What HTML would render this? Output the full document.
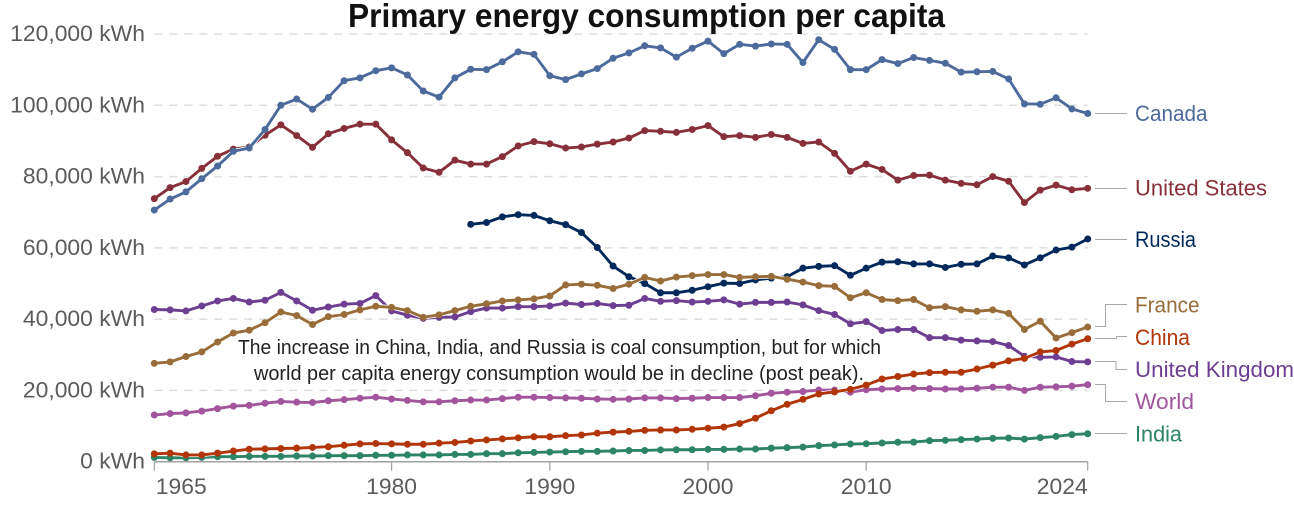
<!DOCTYPE html>
<html lang="en">
<head>
<meta charset="utf-8">
<title>Primary energy consumption per capita</title>
<style>
html,body{margin:0;padding:0;background:#fff;width:1294px;height:512px;overflow:hidden}
svg{display:block;font-family:"Liberation Sans",sans-serif}
.lbl{font-size:22px}
</style>
</head>
<body>
<svg id="chart" width="1294" height="512" viewBox="0 0 1294 512">
  <g id="grid"></g>
  <g id="axis"></g>
  <g id="ylabels"></g>
  <g id="series"></g>
  <text id="title" x="348" y="27" font-size="33" font-weight="700" fill="#111" textLength="597" lengthAdjust="spacingAndGlyphs">Primary energy consumption per capita</text>
  <text x="238" y="354" font-size="20" fill="#222" textLength="643" lengthAdjust="spacingAndGlyphs">The increase in China, India, and Russia is coal consumption, but for which</text>
  <text x="254" y="380" font-size="20" fill="#222" textLength="610" lengthAdjust="spacingAndGlyphs">world per capita energy consumption would be in decline (post peak).</text>
  <g fill="none" stroke="#a9a9a9" stroke-width="1">
    <path d="M1095 113.5H1127"/>
    <path d="M1095 188.5H1127"/>
    <path d="M1095 239.5H1127"/>
    <path d="M1095 326.5H1105.5V304.5H1127"/>
    <path d="M1095 338.5H1116.5V336.5H1127"/>
    <path d="M1095 361.5H1116V369.5H1127"/>
    <path d="M1095 384.5H1105.5V401.5H1127"/>
    <path d="M1095 433.5H1127"/>
  </g>
  <g class="lbl">
    <text x="1135" y="121" fill="#4C6A9C" textLength="72.5" lengthAdjust="spacingAndGlyphs">Canada</text>
    <text x="1135" y="195.5" fill="#883039" textLength="132" lengthAdjust="spacingAndGlyphs">United States</text>
    <text x="1135" y="247" fill="#00295B" textLength="61" lengthAdjust="spacingAndGlyphs">Russia</text>
    <text x="1135" y="312.5" fill="#996D39" textLength="64.5" lengthAdjust="spacingAndGlyphs">France</text>
    <text x="1135" y="345" fill="#B13507" textLength="55" lengthAdjust="spacingAndGlyphs">China</text>
    <text x="1135" y="377" fill="#6D3E91" textLength="159" lengthAdjust="spacingAndGlyphs">United Kingdom</text>
    <text x="1135" y="409" fill="#A2559C" textLength="59" lengthAdjust="spacingAndGlyphs">World</text>
    <text x="1135" y="441.5" fill="#2C8465" textLength="47" lengthAdjust="spacingAndGlyphs">India</text>
  </g>
</svg>
<script>
const firstYear = 1965;
const lastYear = 2024;
const yTicks = [0, 20000, 40000, 60000, 80000, 100000, 120000];
const xTicks = [1965, 1980, 1990, 2000, 2010, 2024];

const canada = [70600,73700,75700,79400,82950,87100,88000,93200,100000,101750,98900,102200,106900,107700,109700,110500,108500,104000,102300,107700,110100,110000,112200,115000,114300,108300,107200,108800,110300,113200,114700,116700,116100,113500,116000,118000,114500,117100,116600,117200,117100,112000,118400,115700,110000,110000,112800,111700,113400,112600,111800,109300,109400,109500,107400,100400,100300,102100,99000,97700];
const unitedStates = [73800,76900,78600,82300,85700,87700,88300,91600,94500,91500,88200,92000,93500,94700,94700,90300,86700,82400,81200,84600,83500,83500,85600,88600,89800,89200,88000,88300,89100,89700,90800,92900,92700,92400,93200,94300,91200,91500,91000,91800,91000,89300,89700,86500,81500,83500,82000,79000,80300,80400,79000,78100,77700,80000,78700,72700,76200,77600,76300,76700];
const russiaStart = 1985;
const russia = [66600,67100,68700,69300,69100,67600,66500,64300,60100,54900,51900,50000,47400,47400,48100,49100,50100,50000,51000,51500,51900,54300,54800,55000,52300,54300,56000,56100,55500,55500,54500,55400,55500,57700,57200,55200,57200,59400,60200,62500];
const france = [27600,28000,29500,30800,33600,36100,36900,39000,42000,41000,38500,40700,41300,42600,43600,43300,42400,40500,41200,42400,43600,44300,45100,45400,45700,46500,49600,49800,49500,48600,49800,51700,50700,51800,52200,52500,52500,51700,51900,52000,51200,50400,49400,49200,46000,47400,45500,45200,45500,43200,43500,42600,42200,42600,41600,37100,39400,34700,36200,37800];
const china = [2200,2400,1900,1900,2400,3000,3500,3600,3700,3800,4000,4200,4600,5000,5100,5000,4900,4900,5200,5400,5800,6100,6400,6700,7000,7000,7300,7500,8000,8300,8500,8800,8900,8900,9100,9400,9700,10700,12200,14300,16100,17500,19000,19600,20300,21500,23200,23900,24600,25000,25100,25100,26000,27100,28300,29000,30800,31200,33000,34500];
const unitedKingdom = [42700,42600,42300,43700,45100,45800,44800,45300,47500,45100,42500,43400,44200,44400,46600,42300,41100,40200,40500,40600,42100,43100,43100,43500,43500,43700,44500,44100,44400,43800,43900,45800,45000,45200,44800,45000,45400,44200,44700,44700,44800,44000,42400,41300,38700,39300,36800,37100,37100,34800,34800,34100,33900,33700,32600,29600,29300,29400,28100,28000];
const world = [13100,13500,13700,14200,14900,15600,15800,16400,16900,16700,16600,17100,17400,17800,18100,17600,17200,16800,16800,17100,17300,17300,17700,18100,18100,18000,17900,17800,17600,17500,17600,17900,17900,17700,17800,18000,18000,18000,18500,19200,19500,19700,20100,20100,19500,20200,20400,20500,20600,20500,20400,20400,20600,20900,20900,20000,20900,21000,21200,21600];
const india = [1200,1100,1100,1200,1400,1400,1500,1500,1500,1600,1600,1700,1700,1700,1800,1800,1900,1900,1900,2050,2050,2250,2250,2500,2600,2700,2800,2900,2900,3000,3150,3150,3300,3350,3350,3450,3450,3550,3550,3800,3950,4100,4500,4700,4950,5050,5250,5450,5500,5900,6000,6200,6350,6550,6650,6350,6750,7100,7600,7850];

const NS = 'http://www.w3.org/2000/svg';
const plotLeft = 154.3, plotRight = 1087.7, plotBottom = 461.7, plotTop = 34;
function xScale(year){ return plotLeft + (year - firstYear) / (lastYear - firstYear) * (plotRight - plotLeft); }
function yScale(v){ return plotBottom - v / 120000 * (plotBottom - plotTop); }
function make(tag, parent){ const e = document.createElementNS(NS, tag); parent.appendChild(e); return e; }
function fit(t){ t.setAttribute('textLength', (t.getComputedTextLength() * 1.04).toFixed(1)); t.setAttribute('lengthAdjust', 'spacingAndGlyphs'); }

const gridG = document.getElementById('grid');
const yLabG = document.getElementById('ylabels');
yTicks.forEach(function(v){
  const yy = yScale(v);
  if (v > 0) {
    const l = make('line', gridG);
    
    
    l.setAttribute('x1', plotLeft); l.setAttribute('x2', plotRight);
    l.setAttribute('y1', yy); l.setAttribute('y2', yy);
    l.setAttribute('stroke', '#dddddd'); l.setAttribute('stroke-width', '1.5');
    l.setAttribute('stroke-dasharray', '8 7');
  }
  const t = make('text', yLabG);
  
  
  t.setAttribute('x', 145); t.setAttribute('y', yy + 7);
  t.setAttribute('text-anchor', 'end'); t.setAttribute('font-size', '22'); t.setAttribute('fill', '#5b5b5b');
  t.textContent = v.toLocaleString('en-US') + ' kWh';
  fit(t);
});

const axisG = document.getElementById('axis');
const base = make('line', axisG);


base.setAttribute('x1', plotLeft); base.setAttribute('x2', plotRight);
base.setAttribute('y1', plotBottom); base.setAttribute('y2', plotBottom);
base.setAttribute('stroke', '#a1a1a1'); base.setAttribute('stroke-width', '1.5');
xTicks.forEach(function(yr, i){
  const xx = xScale(yr);
  const m = make('line', axisG);
  
  
  m.setAttribute('x1', xx); m.setAttribute('x2', xx);
  m.setAttribute('y1', plotBottom); m.setAttribute('y2', plotBottom + 9);
  m.setAttribute('stroke', '#a1a1a1'); m.setAttribute('stroke-width', '1.2');
  const t = make('text', axisG);
  
  
  const edge = i === 0 ? 'start' : (i === xTicks.length - 1 ? 'end' : 'middle');
  t.setAttribute('text-anchor', edge);
  t.setAttribute('x', i === 0 ? xx + 1.5 : xx);
  t.setAttribute('y', 494);
  t.setAttribute('font-size', '22'); t.setAttribute('fill', '#5b5b5b');
  t.textContent = String(yr);
  fit(t);
});

const seriesList = [
  { key: 'world', values: world, start: firstYear, color: '#A2559C' },
  { key: 'united-kingdom', values: unitedKingdom, start: firstYear, color: '#6D3E91' },
  { key: 'india', values: india, start: firstYear, color: '#2C8465' },
  { key: 'russia', values: russia, start: russiaStart, color: '#00295B' },
  { key: 'france', values: france, start: firstYear, color: '#996D39' },
  { key: 'united-states', values: unitedStates, start: firstYear, color: '#883039' },
  { key: 'china', values: china, start: firstYear, color: '#B13507' },
  { key: 'canada', values: canada, start: firstYear, color: '#4C6A9C' }
];
const seriesG = document.getElementById('series');
seriesList.forEach(function(s){
  const g = make('g', seriesG);
  
  
  const pts = s.values.map(function(v, i){ return xScale(s.start + i).toFixed(2) + ',' + yScale(v).toFixed(2); }).join(' ');
  const halo = make('polyline', g);
  
  
  halo.setAttribute('points', pts);
  halo.setAttribute('fill', 'none'); halo.setAttribute('stroke', '#fff'); halo.setAttribute('stroke-width', '4.5');
  const line = make('polyline', g);
  
  
  line.setAttribute('points', pts);
  line.setAttribute('fill', 'none'); line.setAttribute('stroke', s.color); line.setAttribute('stroke-width', '2.9');
  line.setAttribute('stroke-linejoin', 'round');
  s.values.forEach(function(v, i){
    const c = make('circle', g);
    
    
    c.setAttribute('cx', xScale(s.start + i)); c.setAttribute('cy', yScale(v));
    c.setAttribute('r', '3.5'); c.setAttribute('fill', s.color);
  });
});
</script>
</body>
</html>
